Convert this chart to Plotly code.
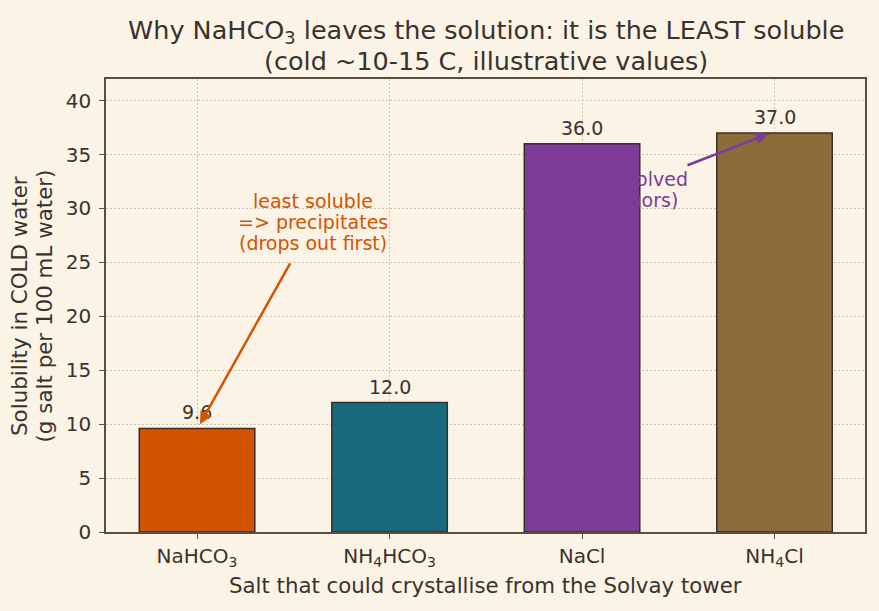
import plotly.graph_objects as go

salts = ["NaHCO<sub>3</sub>", "NH<sub>4</sub>HCO<sub>3</sub>", "NaCl", "NH<sub>4</sub>Cl"]
solubility = [9.6, 12.0, 36.0, 37.0]
bar_colors = ["#d35400", "#176b7c", "#7d3c98", "#8a6d3b"]
xpos = list(range(len(salts)))

title_lines = ["Why NaHCO<sub>3</sub> leaves the solution: it is the LEAST soluble",
               "(cold ~10-15 C, illustrative values)"]
ylabel_lines = ["Solubility in COLD water", "(g salt per 100 mL water)"]
xlabel = "Salt that could crystallise from the Solvay tower"
orange_lines = ["least soluble", "=> precipitates", "(drops out first)"]
purple_lines = ["stay dissolved", "(the liquors)"]

ink = "#3b322c"
bg = "#faf3e6"
F = "DejaVu Sans"
X0, X1 = -0.473, 3.47

fig = go.Figure()

# purple annotation text drawn first so the NaCl bar covers it
fig.add_trace(go.Scatter(
    x=[2.199, 2.199], y=[32.54, 30.6], mode="text",
    text=purple_lines, textposition="middle center",
    textfont=dict(family=F, size=19, color="#7d3c98"),
    hoverinfo="skip", showlegend=False, cliponaxis=False,
))

fig.add_trace(go.Bar(
    x=xpos, y=solubility, width=0.6,
    marker=dict(color=bar_colors, line=dict(color="#3a2e2a", width=1.5)),
    showlegend=False, hoverinfo="skip",
))

# value labels
for xi, v in zip(xpos, solubility):
    fig.add_annotation(x=xi, y=v, text=f"{v:.1f}", showarrow=False,
                       yanchor="middle", yshift=16,
                       font=dict(family=F, size=19, color=ink))

# orange annotation text, one line each
for txt, yy in zip(orange_lines, [30.69, 28.74, 26.79]):
    fig.add_annotation(x=0.602, y=yy, text=txt, showarrow=False,
                       xanchor="center", yanchor="middle",
                       font=dict(family=F, size=19, color="#d35400"))
fig.add_annotation(x=0.015, y=10.0, ax=0.488, ay=25.05, axref="x", ayref="y",
                   xref="x", yref="y", text="", showarrow=True,
                   arrowhead=2, arrowsize=1, arrowwidth=2.5, arrowcolor="#d35400")

# purple arrow
fig.add_annotation(x=2.966, y=36.9, ax=2.54, ay=33.95, axref="x", ayref="y",
                   xref="x", yref="y", text="", showarrow=True,
                   arrowhead=2, arrowsize=1, arrowwidth=2.5, arrowcolor="#7d3c98")

# title lines
for txt, py in zip(title_lines, [1.1049, 1.0397]):
    fig.add_annotation(xref="paper", yref="paper", x=0.5, y=py, text=txt,
                       showarrow=False, xanchor="center", yanchor="middle",
                       font=dict(family=F, size=25.5, color=ink))

# y axis title lines
for txt, px in zip(ylabel_lines, [-0.1140, -0.0804]):
    fig.add_annotation(xref="paper", yref="paper", x=px, y=0.5, text=txt,
                       textangle=-90, showarrow=False, xanchor="center", yanchor="middle",
                       font=dict(family=F, size=21.4, color=ink))

# x axis title
fig.add_annotation(xref="paper", yref="paper", x=0.5, y=-0.1192, text=xlabel,
                   showarrow=False, xanchor="center", yanchor="middle",
                   font=dict(family=F, size=21.3, color=ink))

fig.update_layout(
    width=879, height=611,
    paper_bgcolor=bg, plot_bgcolor=bg,
    margin=dict(l=106, r=14, t=79, b=79),
    font=dict(family=F, size=20, color=ink),
    xaxis=dict(
        tickvals=xpos, ticktext=salts, range=[X0, X1],
        showline=True, linecolor="#5a4e40", linewidth=1.5, mirror=True,
        ticks="outside", ticklen=5, tickcolor="#5a4e40",
        showgrid=True, gridcolor="#cdc3b0", griddash="1.5px,2.5px", gridwidth=1,
        tickfont=dict(size=20), zeroline=False,
    ),
    yaxis=dict(
        range=[0, 42], tickvals=list(range(0, 41, 5)),
        showline=True, linecolor="#5a4e40", linewidth=1.5, mirror=True,
        ticks="outside", ticklen=5, tickcolor="#5a4e40", ticklabelstandoff=4,
        showgrid=True, gridcolor="#cdc3b0", griddash="1.5px,2.5px", gridwidth=1,
        tickfont=dict(size=20), zeroline=False,
    ),
)

fig.write_html("out.html")
